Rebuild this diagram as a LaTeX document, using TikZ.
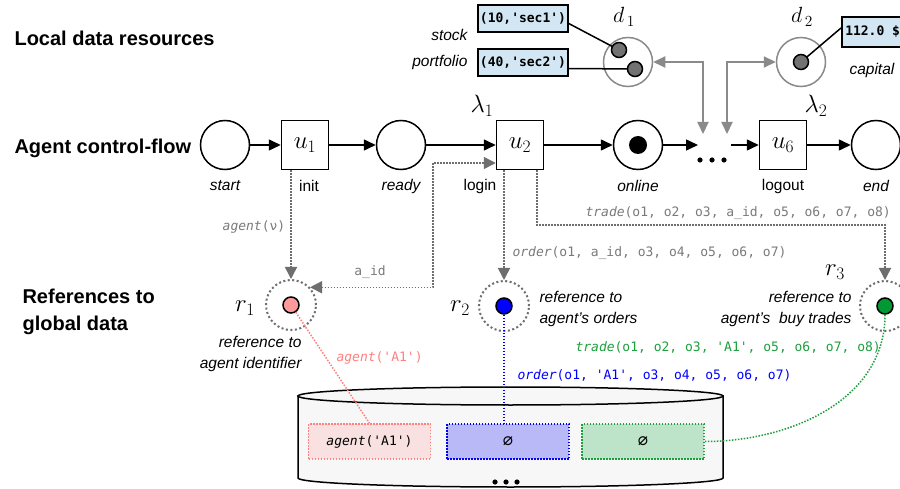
\RequirePackage{fix-cm}
\documentclass[tikz,border=0pt]{standalone}
\usepackage{fontspec}
\setmainfont{Liberation Sans}
\setmonofont{DejaVu Sans Mono}
\usetikzlibrary{arrows.meta,calc}

\definecolor{arrowgray}{HTML}{8A8A8A}
\definecolor{dotgray}{HTML}{6E6E6E}
\definecolor{labelgray}{HTML}{7A7A7A}
\definecolor{resfill}{HTML}{D2E6F4}
\definecolor{tokengray}{HTML}{727272}
\definecolor{refpink}{HTML}{FF9A9A}
\definecolor{txtpink}{HTML}{FF8080}
\definecolor{refblue}{HTML}{0000FF}
\definecolor{refgreen}{HTML}{009933}
\definecolor{txtgreen}{HTML}{1E9E3E}
\definecolor{boxpink}{HTML}{F9E1E1}
\definecolor{boxblue}{HTML}{B9B9F8}
\definecolor{boxgreen}{HTML}{BDE3C9}
\definecolor{cylfill}{HTML}{F7F7F7}

\newcommand{\headfont}{\fontsize{20}{27}\selectfont\bfseries}
\newcommand{\lblfont}{\fontsize{15.5}{21}\selectfont}
\newcommand{\codefont}{\fontsize{13}{16}\selectfont\ttfamily}
\newcommand{\symfont}{\fontsize{25}{25}\selectfont}
\newcommand{\nilset}{{\fontsize{17}{17}\selectfont ∅}}

\begin{document}
\begin{tikzpicture}[x=1pt,y=-1pt,
  place/.style={circle,draw,line width=1.5pt,minimum size=49pt,inner sep=0pt},
  trans/.style={draw,line width=1.5pt,minimum width=47pt,minimum height=49pt,inner sep=0pt,font=\symfont},
  flow/.style={line width=1.5pt,-{Triangle[length=12pt,width=11pt]}},
  dataplace/.style={circle,draw=arrowgray,line width=1.5pt,minimum size=49pt,inner sep=0pt},
  token/.style={circle,draw,line width=1.5pt,fill=tokengray,minimum size=15pt,inner sep=0pt},
  resbox/.style={draw,line width=1.5pt,fill=resfill,minimum height=27pt,inner sep=0pt,font=\codefont\bfseries},
  link/.style={line width=1.5pt},
  access/.style={arrowgray,line width=2pt,{Triangle[length=12pt,width=11pt]}-{Triangle[length=12pt,width=11pt]}},
  refdot/.style={dotgray,line width=1.5pt,dash pattern=on 1.5pt off 1.5pt},
  reftip/.style={-{Triangle[length=12pt,width=12pt]}},
  refplace/.style={circle,draw=dotgray,line width=2pt,dash pattern=on 2pt off 2.5pt,minimum size=50pt,inner sep=0pt},
  reftoken/.style={circle,draw,line width=1.5pt,minimum size=16pt,inner sep=0pt},
  lbl/.style={font=\lblfont},
  ilbl/.style={font=\lblfont\itshape},
  code/.style={font=\codefont},
  store/.style={line width=1.5pt,dash pattern=on 1.5pt off 1.5pt,minimum width=122pt,minimum height=35pt,inner sep=0pt,font=\codefont},
]
\useasboundingbox (0,0) rectangle (900,489);
\clip (0,0) rectangle (900,489);
\fill[white] (0,0) rectangle (900,489);

% section headings
\node[font=\headfont,anchor=west] (hlocal) at (11,38) {Local data resources};
\node[font=\headfont,anchor=west] (hflow) at (11,148) {Agent control-flow};
\node[font=\headfont,anchor=west,align=left] (hrefs) at (19,312) {References to\\global data};

% control-flow net
\node[place] (start) at (225,145) {};
\node[trans] (u1) at (305,145) {$u_{1}$};
\node[place] (ready) at (401,145) {};
\node[trans] (u2) at (520,145) {$u_{2}$};
\node[place] (online) at (638,145) {};
\node[circle,fill,minimum size=18pt,inner sep=0pt] (onltok) at (online) {};
\coordinate (gapin) at (698,145);
\coordinate (gapout) at (731,145);
\node[trans] (u6) at (783,145) {$u_{6}$};
\node[place] (end) at (876,145) {};
\foreach \x in {700,712,724} \fill (\x,160) circle[radius=2.6];

\draw[flow] (start) -- (u1);
\draw[flow] (u1) -- (ready);
\draw[flow] (ready) -- (u2);
\draw[flow] (u2) -- (online);
\draw[flow] (online) -- (gapin);
\draw[flow] (gapout) -- (u6);
\draw[flow] (u6) -- (end);

\node[ilbl] (lstart) at (225,186) {start};
\node[lbl] (linit) at (309,186) {init};
\node[ilbl] (lready) at (401,186) {ready};
\node[lbl] (llogin) at (480,186) {login};
\node[ilbl] (lonline) at (638,186) {online};
\node[lbl] (llogout) at (783,186) {logout};
\node[ilbl] (lend) at (876,186) {end};
\node[font=\symfont] (lam1) at (482,106) {$\lambda_{1}$};
\node[font=\symfont] (lam2) at (816,106) {$\lambda_{2}$};

% local data places
\node[dataplace] (d1) at (628,62) {};
\node[dataplace] (d2) at (801,62) {};
\node[resbox,minimum width=90pt] (sec1) at (523,18.5) {(10,'sec1')};
\node[resbox,minimum width=90pt] (sec2) at (523,62.5) {(40,'sec2')};
\node[resbox,anchor=west,minimum height=30pt,inner xsep=3.5pt] (cap) at (841,32) {112.0 \$};
\draw[link] ($(sec1.east)+(0,5)$) -- (619,50);
\draw[link] ($(sec2.east)+(0,6)$) -- (635,69);
\draw[link] ($(cap.west)+(0,-4)$) -- (801,62);
\node[token] (t11) at (619,50) {};
\node[token] (t12) at (635,69) {};
\node[token] (t21) at (801,62) {};
\node[ilbl,anchor=east] (lstock) at (471,35) {stock};
\node[ilbl,anchor=east] (lport) at (471,62) {portfolio};
\node[ilbl,anchor=west] (lcap) at (846,70) {capital};
\node[font=\fontsize{22}{22}\selectfont] (ld1) at (624,17) {$d_{\,1}$};
\node[font=\fontsize{22}{22}\selectfont] (ld2) at (802,17) {$d_{\,2}$};

\coordinate (gap1) at (703,134);
\coordinate (gap2) at (727,134);
\draw[access] (d1.east) -| (gap1);
\draw[access] (gap2) |- (d2.west);

% references to global data
\node[refplace] (r1) at (291,305) {};
\node[reftoken,fill=refpink] (r1t) at (r1) {};
\node[refplace] (r2) at (504,306) {};
\node[reftoken,fill=refblue] (r2t) at (r2) {};
\node[refplace] (r3) at (885,306) {};
\node[reftoken,fill=refgreen] (r3t) at (r3) {};
\node[font=\symfont] (lr1) at (245,308) {$r_{1}$};
\node[font=\symfont] (lr2) at (460,308) {$r_{2}$};
\node[font=\symfont] (lr3) at (835,272) {$r_{3}$};

\draw[refdot,reftip] (u1.south -| r1) -- (r1);
\node[code,text=labelgray] (lagentv) at (254,227) {\textit{agent}(ν)};
\coordinate (aidbend) at (433,163);
\draw[refdot,{Triangle[length=12pt,width=12pt]}-{Triangle[length=12pt,width=12pt]}]
  (r1.43) -| (aidbend) -- (u2.west |- aidbend);
\node[code,text=labelgray] (laid) at (370,272) {a\_id};
\draw[refdot,reftip] (u2.south -| r2) -- (r2);
\node[code,text=labelgray,anchor=west] (lorder) at (509,253) {\textit{order}(o1, a\_id, o3, o4, o5, o6, o7)};
\coordinate (tradebend) at (885,225);
\draw[refdot,reftip] ($(u2.south)+(17,0)$) |- (tradebend) -- (r3);
\node[code,text=labelgray,anchor=west] (ltrade) at (582,213) {\textit{trade}(o1, o2, o3, a\_id, o5, o6, o7, o8)};

\node[ilbl,align=right,anchor=east] (dr1) at (305,354) {reference to\\agent identifier};
\node[ilbl,align=left,anchor=west] (dr2) at (536,309) {reference to\\agent’s orders};
\node[ilbl,align=right,anchor=east] (dr3) at (855,309) {reference to\\agent’s~ buy trades};

\node[code,text=txtpink,anchor=west] (lpink) at (333,358) {\textit{agent}('A1')};
\node[code,text=txtgreen,anchor=west] (lgreen) at (572,347) {\textit{trade}(o1, o2, o3, 'A1', o5, o6, o7, o8)};
\node[code,text=refblue,anchor=west] (lblue) at (514,375) {\textit{order}(o1, 'A1', o3, o4, o5, o6, o7)};

% global data store
\draw[line width=1.5pt,fill=cylfill] (298,396) -- (298,478)
  arc[start angle=180,end angle=0,x radius=212.5,y radius=9] -- (723,396) -- cycle;
\draw[line width=1.5pt,fill=cylfill] (510.5,396) ellipse[x radius=212.5,y radius=9];
\foreach \x in {495,506,517} \fill (\x,482) circle[radius=2.6];

\node[store,draw=txtpink,fill=boxpink] (pbox) at (369.5,441.5) {\textit{agent}('A1')};
\node[store,draw=refblue,fill=boxblue] (bbox) at (508,441.5) {\nilset};
\node[store,draw=txtgreen,fill=boxgreen] (gbox) at (643,441.5) {\nilset};

\draw[refdot,txtpink] (r1t) -- (pbox.north);
\draw[refdot,refblue] (r2t) -- (r2t |- bbox.north);
\draw[refdot,txtgreen] (r3t.south) .. controls (885,400) and (790,441.5) .. (gbox.east);
\end{tikzpicture}
\end{document}
